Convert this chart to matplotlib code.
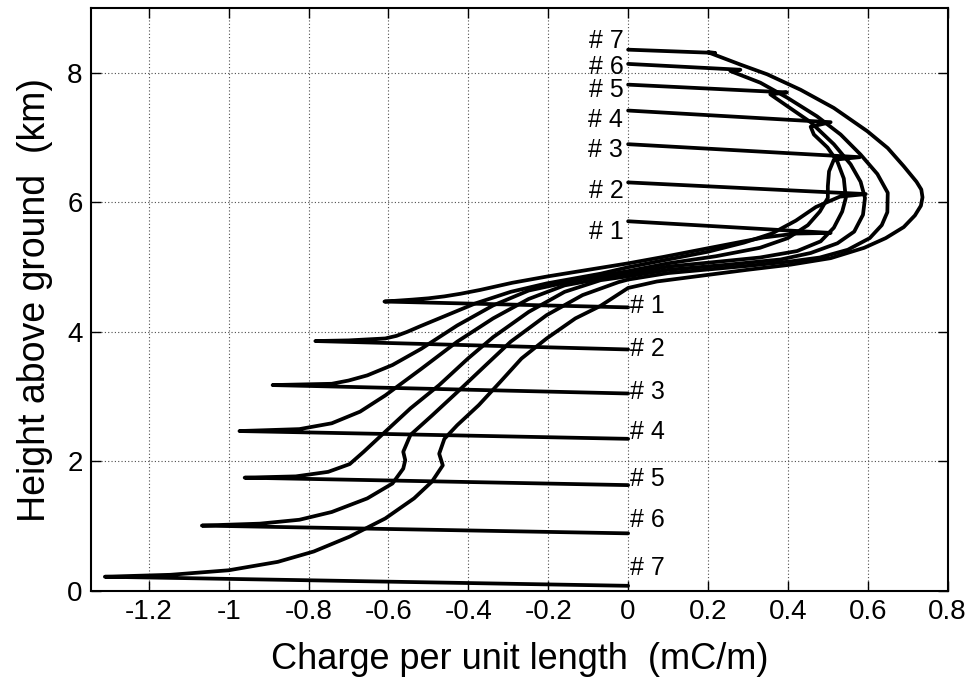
import matplotlib
matplotlib.use("Agg")
import matplotlib.pyplot as plt

plt.rcParams['font.family'] = ['Liberation Sans', 'DejaVu Sans']

# charge per unit length (mC/m) vs height (km), one polyline per leader stage
# path: top label end -> top tip -> channel -> bottom tip -> bottom label end
x1 = [0, 0.507, 0.42, 0.34, 0.256, 0.172, 0.089, 0.0, -0.1, -0.2, -0.29, -0.37, -0.42, -0.46,
      -0.50, -0.54, -0.61, 0]
y1 = [5.71, 5.53, 5.52, 5.46, 5.36, 5.26, 5.16, 5.06, 4.96, 4.86, 4.76, 4.65, 4.59, 4.55,
      4.52, 4.50, 4.47, 4.38]

x2 = [0, 0.595, 0.53, 0.47, 0.42, 0.36, 0.29, 0.2, 0.1, 0.0, -0.069, -0.204, -0.294, -0.383, -0.473,
      -0.52, -0.554, -0.58, -0.608, -0.7, -0.783, 0]
y2 = [6.31, 6.13, 6.09, 5.93, 5.72, 5.52, 5.38, 5.24, 5.12, 5.0, 4.90, 4.75, 4.62, 4.44, 4.21,
      4.09, 4.0, 3.94, 3.90, 3.87, 3.86, 3.73]

x3 = [0, 0.58, 0.515, 0.503, 0.50, 0.50, 0.48, 0.45, 0.40, 0.33, 0.22, 0.1, 0.0, -0.114, -0.249,
      -0.338, -0.428, -0.518, -0.59, -0.653, -0.70, -0.742, -0.89, 0]
y3 = [6.90, 6.70, 6.66, 6.48, 6.25, 6.07, 5.86, 5.65, 5.45, 5.30, 5.17, 5.06, 4.94, 4.82, 4.64,
      4.41, 4.10, 3.74, 3.49, 3.33, 3.25, 3.20, 3.18, 3.05]

x4 = [0, 0.507, 0.457, 0.465, 0.499, 0.524, 0.54, 0.545, 0.536, 0.515, 0.482, 0.423, 0.33, 0.2,
      0.1, 0.0, -0.159, -0.249, -0.338, -0.428, -0.518, -0.608, -0.671, -0.742, -0.823, -0.973, 0]
y4 = [7.42, 7.24, 7.17, 7.05, 6.85, 6.63, 6.37, 6.07, 5.86, 5.61, 5.40, 5.25, 5.15, 5.07,
      5.01, 4.90, 4.72, 4.51, 4.21, 3.85, 3.43, 3.02, 2.77, 2.59, 2.50, 2.47, 2.35]

x5 = [0, 0.3975, 0.356, 0.398, 0.457, 0.515, 0.557, 0.582, 0.593, 0.588, 0.566, 0.524, 0.457,
      0.382, 0.25, 0.1, 0.0, -0.069, -0.159, -0.249, -0.338, -0.401, -0.473, -0.545, -0.608,
      -0.662, -0.697, -0.751, -0.832, -0.96, 0]
y5 = [7.82, 7.70, 7.67, 7.49, 7.24, 6.90, 6.59, 6.32, 6.07, 5.81, 5.55, 5.37, 5.22,
      5.12, 5.04, 4.96, 4.86, 4.80, 4.62, 4.31, 3.92, 3.59, 3.18, 2.82, 2.46,
      2.15, 1.96, 1.84, 1.77, 1.75, 1.635]

x6 = [0, 0.281, 0.256, 0.331, 0.398, 0.473, 0.532, 0.582, 0.624, 0.650, 0.649, 0.635, 0.605,
      0.55, 0.48, 0.407, 0.298, 0.172, 0.1, 0.0, -0.024, -0.114, -0.204, -0.294, -0.356, -0.428,
      -0.491, -0.545, -0.563, -0.558, -0.563, -0.59, -0.653, -0.742, -0.823, -0.922, -1.067, 0]
y6 = [8.14, 8.05, 8.03, 7.85, 7.62, 7.33, 7.05, 6.74, 6.44, 6.15, 5.85, 5.65, 5.45,
      5.27, 5.15, 5.09, 5.02, 4.95, 4.91, 4.81, 4.77, 4.57, 4.26, 3.85, 3.49, 3.07,
      2.71, 2.41, 2.15, 2.02, 1.89, 1.66, 1.43, 1.22, 1.10, 1.04, 1.01, 0.89]

x7 = [0, 0.218, 0.20, 0.281, 0.348, 0.432, 0.515, 0.599, 0.65, 0.69, 0.722, 0.734, 0.737, 0.733,
      0.718, 0.69, 0.645, 0.591, 0.507, 0.407, 0.298, 0.172, 0.072, 0.0, -0.07, -0.132, -0.204,
      -0.267, -0.32, -0.374, -0.428, -0.46, -0.473, -0.464, -0.491, -0.536, -0.608, -0.697,
      -0.787, -0.877, -1.0, -1.146, -1.31, 0]
y7 = [8.36, 8.31, 8.32, 8.13, 7.98, 7.74, 7.46, 7.10, 6.84, 6.56, 6.32, 6.20, 6.08, 5.95,
      5.80, 5.62, 5.45, 5.30, 5.14, 5.04, 4.96, 4.86, 4.78, 4.68, 4.40, 4.21, 3.90,
      3.59, 3.23, 2.87, 2.56, 2.35, 2.12, 1.94, 1.69, 1.43, 1.12, 0.84,
      0.61, 0.45, 0.32, 0.25, 0.22, 0.08]

labels = ['# 1', '# 2', '# 3', '# 4', '# 5', '# 6', '# 7']
top_label_y = [5.55, 6.18, 6.81, 7.28, 7.74, 8.10, 8.49]
bottom_label_y = [4.40, 3.73, 3.07, 2.45, 1.73, 1.09, 0.35]

x_ticks = [-1.2, -1, -0.8, -0.6, -0.4, -0.2, 0, 0.2, 0.4, 0.6, 0.8]
x_tick_labels = ['-1.2', '-1', '-0.8', '-0.6', '-0.4', '-0.2', '0', '0.2', '0.4', '0.6', '0.8']
y_ticks = [0, 2, 4, 6, 8]

fig = plt.figure(figsize=(9.67, 6.86), dpi=100)
ax = fig.add_axes([0.094, 0.1385, 0.886, 0.8495])

for xs, ys in [(x1, y1), (x2, y2), (x3, y3), (x4, y4), (x5, y5), (x6, y6), (x7, y7)]:
    ax.plot(xs, ys, color='black', lw=2.7, solid_joinstyle='round', solid_capstyle='round')

for lab, yt, yb in zip(labels, top_label_y, bottom_label_y):
    ax.text(-0.012, yt, lab, ha='right', va='center', fontsize=18)
    ax.text(0.004, yb, lab, ha='left', va='center', fontsize=18)

ax.set_xlim(-1.345, 0.8)
ax.set_ylim(0, 9)
ax.set_xticks(x_ticks)
ax.set_xticklabels(x_tick_labels)
ax.set_yticks(y_ticks)
ax.tick_params(direction='in', length=7, width=1, top=True, right=True, labelsize=20, pad=6)
ax.grid(True, color='0.3', linestyle=(0, (1, 2)), lw=0.8)
for s in ax.spines.values():
    s.set_linewidth(1.5)

ax.set_xlabel('Charge per unit length  (mC/m)', fontsize=26, labelpad=12)
ax.set_ylabel('Height above ground  (km)', fontsize=27, labelpad=10)

fig.savefig('out.png', dpi=100)
